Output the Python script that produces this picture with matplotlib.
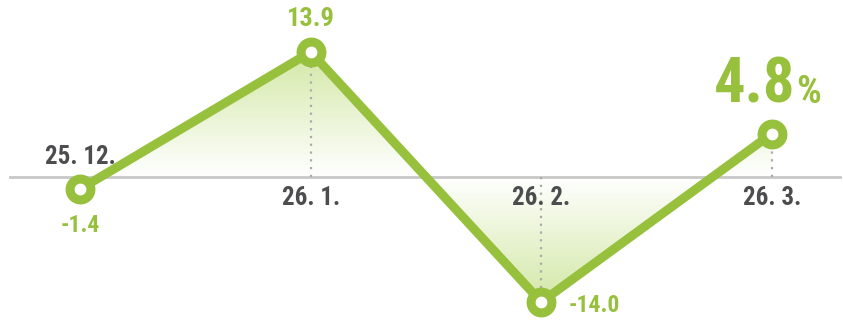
import numpy as np
import matplotlib
matplotlib.use("Agg")
import matplotlib.pyplot as plt
from matplotlib.colors import LinearSegmentedColormap

months = ["25. 12.", "26. 1.", "26. 2.", "26. 3."]
values = [-1.4, 13.9, -14.0, 4.8]
value_labels = ["-1.4", "13.9", "-14.0", "4.8"]

green = "#97c03c"
grey_txt = "#4d4d4f"
fam = ["Liberation Sans Narrow", "Roboto Condensed", "DejaVu Sans"]

fig = plt.figure(figsize=(8.43, 3.22), dpi=100)
ax = fig.add_axes([0, 0, 1, 1])
ax.set_xlim(-0.347, 3.308)
ax.set_ylim(-16.23, 19.70)
ax.axis("off")

x = np.arange(len(values))
y = np.array(values)

# gradient fill between the line and zero, stronger further from zero
poly = ax.fill_between(x, y, 0, color="none", lw=0)
cmap = LinearSegmentedColormap.from_list("fade", ["#ffffff", "#d3e8a6"])
yy = np.linspace(-16.23, 19.70, 400)
grad = np.clip(np.abs(yy) / 14.0, 0, 1)[:, None]
img = ax.imshow(grad, extent=[-0.347, 3.308, -16.23, 19.70], origin="lower",
                aspect="auto", cmap=cmap, vmin=0, vmax=1, zorder=1)
path = poly.get_paths()[0]
img.set_clip_path(path, transform=ax.transData)

# zero line
ax.axhline(0, xmin=0.012, xmax=0.996, color="#c8c8c8", lw=2, zorder=2)

# dotted drop lines
for xi, yi in zip(x, y):
    ax.plot([xi, xi], [0, yi], color="#aaaaaa", lw=1.6, ls=(0, (1, 2.5)), zorder=2)

ax.plot(x, y, color=green, lw=6.5, solid_capstyle="round", zorder=3)
ax.plot(x, y, "o", ms=15, mfc="white", mec=green, mew=6.5, zorder=4)

# month labels around the zero line
month_off = [20, -21, -21, -21]
for xi, lab, off in zip(x, months, month_off):
    ax.annotate(lab, (xi, 0), xytext=(0, off), textcoords="offset pixels",
                ha="center", va="center", fontsize=18, fontweight="bold",
                color=grey_txt, family=fam, zorder=5)

# value labels
ax.annotate(value_labels[0], (x[0], y[0]), xytext=(0, -36), textcoords="offset pixels",
            ha="center", va="center", fontsize=17, fontweight="bold",
            color=green, family=fam)
ax.annotate(value_labels[1], (x[1], y[1]), xytext=(0, 33), textcoords="offset pixels",
            ha="center", va="center", fontsize=19, fontweight="bold",
            color=green, family=fam)
ax.annotate(value_labels[2], (x[2], y[2]), xytext=(27, -3), textcoords="offset pixels",
            ha="left", va="center", fontsize=17, fontweight="bold",
            color=green, family=fam)
ax.annotate(value_labels[3], (x[3], y[3]), xytext=(23, 31), textcoords="offset pixels",
            ha="right", va="baseline", fontsize=45, fontweight="bold",
            color=green, family=fam)
ax.annotate("%", (x[3], y[3]), xytext=(24, 31), textcoords="offset pixels",
            ha="left", va="baseline", fontsize=28, fontweight="bold",
            color=green, family=fam)

fig.savefig("out.png", dpi=100)
